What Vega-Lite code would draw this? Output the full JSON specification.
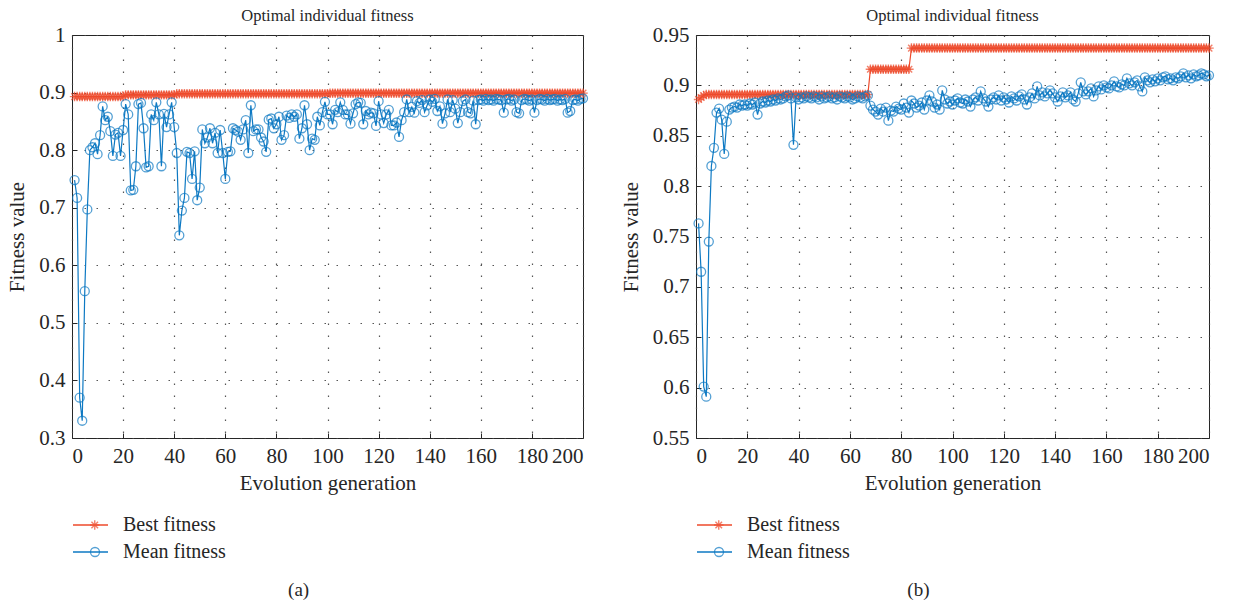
{
  "$schema": "https://vega.github.io/schema/vega-lite/v6.json",
  "background": "white",
  "padding": {"left": 6, "top": 7, "right": 5, "bottom": 5},
  "config": {
    "font": "Liberation Serif",
    "view": {"stroke": "#262626", "strokeWidth": 1},
    "axis": {
      "labelFont": "Liberation Serif", "labelFontSize": 21, "labelColor": "#262626",
      "titleFont": "Liberation Serif", "titleFontSize": 21, "titleFontWeight": "normal", "titleColor": "#262626",
      "domain": false, "tickColor": "#262626", "tickSize": -5, "labelPadding": 12,
      "grid": true, "gridDash": [1.5, 10.5], "gridColor": "#444444", "gridOpacity": 0.9, "gridWidth": 1.2
    },
    "legend": {"labelFont": "Liberation Serif", "labelFontSize": 20, "labelColor": "#262626"},
    "title": {"font": "Liberation Serif", "fontSize": 16.5, "fontWeight": "normal", "color": "#262626"}
  },
  "datasets": {
    "a": [
      {"g":1,"B":0.893,"M":0.748},{"g":2,"B":0.893,"M":0.717},{"g":3,"B":0.893,"M":0.370},{"g":4,"B":0.893,"M":0.330},{"g":5,"B":0.893,"M":0.555},
      {"g":6,"B":0.893,"M":0.697},{"g":7,"B":0.893,"M":0.800},{"g":8,"B":0.893,"M":0.805},{"g":9,"B":0.893,"M":0.812},{"g":10,"B":0.893,"M":0.793},
      {"g":11,"B":0.893,"M":0.826},{"g":12,"B":0.893,"M":0.876},{"g":13,"B":0.893,"M":0.852},{"g":14,"B":0.893,"M":0.858},{"g":15,"B":0.893,"M":0.833},
      {"g":16,"B":0.893,"M":0.790},{"g":17,"B":0.893,"M":0.827},{"g":18,"B":0.893,"M":0.830},{"g":19,"B":0.893,"M":0.790},{"g":20,"B":0.893,"M":0.835},
      {"g":21,"B":0.896,"M":0.880},{"g":22,"B":0.896,"M":0.862},{"g":23,"B":0.896,"M":0.730},{"g":24,"B":0.896,"M":0.731},{"g":25,"B":0.896,"M":0.772},
      {"g":26,"B":0.896,"M":0.880},{"g":27,"B":0.896,"M":0.882},{"g":28,"B":0.896,"M":0.838},{"g":29,"B":0.896,"M":0.770},{"g":30,"B":0.896,"M":0.772},
      {"g":31,"B":0.896,"M":0.862},{"g":32,"B":0.896,"M":0.852},{"g":33,"B":0.896,"M":0.883},{"g":34,"B":0.896,"M":0.862},{"g":35,"B":0.896,"M":0.772},
      {"g":36,"B":0.896,"M":0.863},{"g":37,"B":0.896,"M":0.840},{"g":38,"B":0.896,"M":0.862},{"g":39,"B":0.896,"M":0.883},{"g":40,"B":0.896,"M":0.840},
      {"g":41,"B":0.898,"M":0.795},{"g":42,"B":0.898,"M":0.652},{"g":43,"B":0.898,"M":0.695},{"g":44,"B":0.898,"M":0.717},{"g":45,"B":0.898,"M":0.797},
      {"g":46,"B":0.898,"M":0.795},{"g":47,"B":0.898,"M":0.750},{"g":48,"B":0.898,"M":0.798},{"g":49,"B":0.898,"M":0.713},{"g":50,"B":0.898,"M":0.735},
      {"g":51,"B":0.898,"M":0.836},{"g":52,"B":0.898,"M":0.812},{"g":53,"B":0.898,"M":0.822},{"g":54,"B":0.898,"M":0.838},{"g":55,"B":0.898,"M":0.812},
      {"g":56,"B":0.898,"M":0.830},{"g":57,"B":0.898,"M":0.795},{"g":58,"B":0.898,"M":0.835},{"g":59,"B":0.898,"M":0.795},{"g":60,"B":0.898,"M":0.750},
      {"g":61,"B":0.898,"M":0.797},{"g":62,"B":0.898,"M":0.798},{"g":63,"B":0.898,"M":0.838},{"g":64,"B":0.898,"M":0.835},{"g":65,"B":0.898,"M":0.832},
      {"g":66,"B":0.898,"M":0.818},{"g":67,"B":0.898,"M":0.836},{"g":68,"B":0.898,"M":0.852},{"g":69,"B":0.898,"M":0.795},{"g":70,"B":0.898,"M":0.878},
      {"g":71,"B":0.898,"M":0.833},{"g":72,"B":0.898,"M":0.836},{"g":73,"B":0.898,"M":0.836},{"g":74,"B":0.898,"M":0.822},{"g":75,"B":0.898,"M":0.815},
      {"g":76,"B":0.898,"M":0.797},{"g":77,"B":0.898,"M":0.853},{"g":78,"B":0.898,"M":0.855},{"g":79,"B":0.898,"M":0.838},{"g":80,"B":0.898,"M":0.845},
      {"g":81,"B":0.898,"M":0.858},{"g":82,"B":0.898,"M":0.818},{"g":83,"B":0.898,"M":0.826},{"g":84,"B":0.898,"M":0.860},{"g":85,"B":0.898,"M":0.856},
      {"g":86,"B":0.898,"M":0.862},{"g":87,"B":0.898,"M":0.858},{"g":88,"B":0.898,"M":0.862},{"g":89,"B":0.898,"M":0.820},{"g":90,"B":0.898,"M":0.838},
      {"g":91,"B":0.898,"M":0.878},{"g":92,"B":0.898,"M":0.845},{"g":93,"B":0.898,"M":0.800},{"g":94,"B":0.898,"M":0.820},{"g":95,"B":0.898,"M":0.818},
      {"g":96,"B":0.898,"M":0.858},{"g":97,"B":0.898,"M":0.843},{"g":98,"B":0.898,"M":0.866},{"g":99,"B":0.898,"M":0.884},{"g":100,"B":0.898,"M":0.862},
      {"g":101,"B":0.899,"M":0.862},{"g":102,"B":0.899,"M":0.845},{"g":103,"B":0.899,"M":0.870},{"g":104,"B":0.899,"M":0.866},{"g":105,"B":0.899,"M":0.883},
      {"g":106,"B":0.899,"M":0.870},{"g":107,"B":0.899,"M":0.862},{"g":108,"B":0.899,"M":0.862},{"g":109,"B":0.899,"M":0.846},{"g":110,"B":0.899,"M":0.864},
      {"g":111,"B":0.899,"M":0.880},{"g":112,"B":0.899,"M":0.883},{"g":113,"B":0.899,"M":0.882},{"g":114,"B":0.899,"M":0.845},{"g":115,"B":0.899,"M":0.868},
      {"g":116,"B":0.899,"M":0.862},{"g":117,"B":0.899,"M":0.865},{"g":118,"B":0.899,"M":0.864},{"g":119,"B":0.899,"M":0.842},{"g":120,"B":0.899,"M":0.885},
      {"g":121,"B":0.899,"M":0.862},{"g":122,"B":0.899,"M":0.847},{"g":123,"B":0.899,"M":0.862},{"g":124,"B":0.899,"M":0.870},{"g":125,"B":0.899,"M":0.843},
      {"g":126,"B":0.899,"M":0.843},{"g":127,"B":0.899,"M":0.848},{"g":128,"B":0.899,"M":0.823},{"g":129,"B":0.899,"M":0.852},{"g":130,"B":0.899,"M":0.866},
      {"g":131,"B":0.899,"M":0.888},{"g":132,"B":0.899,"M":0.866},{"g":133,"B":0.899,"M":0.875},{"g":134,"B":0.899,"M":0.865},{"g":135,"B":0.899,"M":0.885},
      {"g":136,"B":0.899,"M":0.882},{"g":137,"B":0.899,"M":0.887},{"g":138,"B":0.899,"M":0.866},{"g":139,"B":0.899,"M":0.878},{"g":140,"B":0.899,"M":0.888},
      {"g":141,"B":0.899,"M":0.884},{"g":142,"B":0.899,"M":0.889},{"g":143,"B":0.899,"M":0.868},{"g":144,"B":0.899,"M":0.876},{"g":145,"B":0.899,"M":0.846},
      {"g":146,"B":0.899,"M":0.864},{"g":147,"B":0.899,"M":0.888},{"g":148,"B":0.899,"M":0.866},{"g":149,"B":0.899,"M":0.887},{"g":150,"B":0.899,"M":0.872},
      {"g":151,"B":0.899,"M":0.847},{"g":152,"B":0.899,"M":0.866},{"g":153,"B":0.899,"M":0.885},{"g":154,"B":0.899,"M":0.888},{"g":155,"B":0.899,"M":0.866},
      {"g":156,"B":0.899,"M":0.864},{"g":157,"B":0.899,"M":0.886},{"g":158,"B":0.899,"M":0.845},{"g":159,"B":0.899,"M":0.887},{"g":160,"B":0.899,"M":0.888},
      {"g":161,"B":0.899,"M":0.886},{"g":162,"B":0.899,"M":0.889},{"g":163,"B":0.899,"M":0.887},{"g":164,"B":0.899,"M":0.888},{"g":165,"B":0.899,"M":0.886},
      {"g":166,"B":0.899,"M":0.889},{"g":167,"B":0.899,"M":0.888},{"g":168,"B":0.899,"M":0.887},{"g":169,"B":0.899,"M":0.865},{"g":170,"B":0.899,"M":0.888},
      {"g":171,"B":0.899,"M":0.889},{"g":172,"B":0.899,"M":0.886},{"g":173,"B":0.899,"M":0.888},{"g":174,"B":0.899,"M":0.866},{"g":175,"B":0.899,"M":0.864},
      {"g":176,"B":0.899,"M":0.887},{"g":177,"B":0.899,"M":0.889},{"g":178,"B":0.899,"M":0.888},{"g":179,"B":0.899,"M":0.886},{"g":180,"B":0.899,"M":0.888},
      {"g":181,"B":0.899,"M":0.865},{"g":182,"B":0.899,"M":0.887},{"g":183,"B":0.899,"M":0.889},{"g":184,"B":0.899,"M":0.888},{"g":185,"B":0.899,"M":0.886},
      {"g":186,"B":0.899,"M":0.889},{"g":187,"B":0.899,"M":0.887},{"g":188,"B":0.899,"M":0.888},{"g":189,"B":0.899,"M":0.889},{"g":190,"B":0.899,"M":0.886},
      {"g":191,"B":0.899,"M":0.888},{"g":192,"B":0.899,"M":0.887},{"g":193,"B":0.899,"M":0.889},{"g":194,"B":0.899,"M":0.865},{"g":195,"B":0.899,"M":0.868},
      {"g":196,"B":0.899,"M":0.887},{"g":197,"B":0.899,"M":0.888},{"g":198,"B":0.899,"M":0.886},{"g":199,"B":0.899,"M":0.889},{"g":200,"B":0.899,"M":0.890}
    ],
    "b": [
      {"g":1,"B":0.886,"M":0.763},{"g":2,"B":0.888,"M":0.715},{"g":3,"B":0.890,"M":0.601},{"g":4,"B":0.891,"M":0.591},{"g":5,"B":0.891,"M":0.745},
      {"g":6,"B":0.891,"M":0.820},{"g":7,"B":0.891,"M":0.838},{"g":8,"B":0.891,"M":0.873},{"g":9,"B":0.891,"M":0.877},{"g":10,"B":0.891,"M":0.866},
      {"g":11,"B":0.891,"M":0.832},{"g":12,"B":0.891,"M":0.864},{"g":13,"B":0.891,"M":0.876},{"g":14,"B":0.891,"M":0.878},{"g":15,"B":0.891,"M":0.879},
      {"g":16,"B":0.891,"M":0.878},{"g":17,"B":0.891,"M":0.881},{"g":18,"B":0.891,"M":0.880},{"g":19,"B":0.891,"M":0.881},{"g":20,"B":0.891,"M":0.880},
      {"g":21,"B":0.891,"M":0.882},{"g":22,"B":0.891,"M":0.881},{"g":23,"B":0.891,"M":0.883},{"g":24,"B":0.891,"M":0.871},{"g":25,"B":0.891,"M":0.882},
      {"g":26,"B":0.891,"M":0.884},{"g":27,"B":0.891,"M":0.883},{"g":28,"B":0.891,"M":0.885},{"g":29,"B":0.891,"M":0.884},{"g":30,"B":0.891,"M":0.886},
      {"g":31,"B":0.891,"M":0.885},{"g":32,"B":0.891,"M":0.887},{"g":33,"B":0.891,"M":0.886},{"g":34,"B":0.891,"M":0.887},{"g":35,"B":0.891,"M":0.889},
      {"g":36,"B":0.891,"M":0.890},{"g":37,"B":0.891,"M":0.887},{"g":38,"B":0.891,"M":0.841},{"g":39,"B":0.891,"M":0.888},{"g":40,"B":0.891,"M":0.886},
      {"g":41,"B":0.891,"M":0.888},{"g":42,"B":0.891,"M":0.887},{"g":43,"B":0.891,"M":0.889},{"g":44,"B":0.891,"M":0.888},{"g":45,"B":0.891,"M":0.887},
      {"g":46,"B":0.891,"M":0.889},{"g":47,"B":0.891,"M":0.888},{"g":48,"B":0.891,"M":0.886},{"g":49,"B":0.891,"M":0.889},{"g":50,"B":0.891,"M":0.887},
      {"g":51,"B":0.891,"M":0.888},{"g":52,"B":0.891,"M":0.889},{"g":53,"B":0.891,"M":0.887},{"g":54,"B":0.891,"M":0.888},{"g":55,"B":0.891,"M":0.886},
      {"g":56,"B":0.891,"M":0.889},{"g":57,"B":0.891,"M":0.888},{"g":58,"B":0.891,"M":0.887},{"g":59,"B":0.891,"M":0.889},{"g":60,"B":0.891,"M":0.888},
      {"g":61,"B":0.891,"M":0.886},{"g":62,"B":0.891,"M":0.887},{"g":63,"B":0.891,"M":0.889},{"g":64,"B":0.891,"M":0.888},{"g":65,"B":0.891,"M":0.887},
      {"g":66,"B":0.891,"M":0.889},{"g":67,"B":0.891,"M":0.890},{"g":68,"B":0.916,"M":0.880},{"g":69,"B":0.916,"M":0.876},{"g":70,"B":0.916,"M":0.874},
      {"g":71,"B":0.916,"M":0.871},{"g":72,"B":0.916,"M":0.877},{"g":73,"B":0.916,"M":0.874},{"g":74,"B":0.916,"M":0.878},{"g":75,"B":0.916,"M":0.865},
      {"g":76,"B":0.916,"M":0.875},{"g":77,"B":0.916,"M":0.874},{"g":78,"B":0.916,"M":0.879},{"g":79,"B":0.916,"M":0.877},{"g":80,"B":0.916,"M":0.876},
      {"g":81,"B":0.916,"M":0.882},{"g":82,"B":0.916,"M":0.878},{"g":83,"B":0.916,"M":0.873},{"g":84,"B":0.937,"M":0.885},{"g":85,"B":0.937,"M":0.882},
      {"g":86,"B":0.937,"M":0.878},{"g":87,"B":0.937,"M":0.880},{"g":88,"B":0.937,"M":0.883},{"g":89,"B":0.937,"M":0.876},{"g":90,"B":0.937,"M":0.885},
      {"g":91,"B":0.937,"M":0.890},{"g":92,"B":0.937,"M":0.884},{"g":93,"B":0.937,"M":0.878},{"g":94,"B":0.937,"M":0.881},{"g":95,"B":0.937,"M":0.876},
      {"g":96,"B":0.937,"M":0.895},{"g":97,"B":0.937,"M":0.886},{"g":98,"B":0.937,"M":0.882},{"g":99,"B":0.937,"M":0.884},{"g":100,"B":0.937,"M":0.881},
      {"g":101,"B":0.937,"M":0.885},{"g":102,"B":0.937,"M":0.887},{"g":103,"B":0.937,"M":0.883},{"g":104,"B":0.937,"M":0.882},{"g":105,"B":0.937,"M":0.886},
      {"g":106,"B":0.937,"M":0.884},{"g":107,"B":0.937,"M":0.879},{"g":108,"B":0.937,"M":0.886},{"g":109,"B":0.937,"M":0.888},{"g":110,"B":0.937,"M":0.885},
      {"g":111,"B":0.937,"M":0.894},{"g":112,"B":0.937,"M":0.887},{"g":113,"B":0.937,"M":0.884},{"g":114,"B":0.937,"M":0.879},{"g":115,"B":0.937,"M":0.886},
      {"g":116,"B":0.937,"M":0.888},{"g":117,"B":0.937,"M":0.886},{"g":118,"B":0.937,"M":0.890},{"g":119,"B":0.937,"M":0.885},{"g":120,"B":0.937,"M":0.888},
      {"g":121,"B":0.937,"M":0.886},{"g":122,"B":0.937,"M":0.883},{"g":123,"B":0.937,"M":0.889},{"g":124,"B":0.937,"M":0.887},{"g":125,"B":0.937,"M":0.885},
      {"g":126,"B":0.937,"M":0.889},{"g":127,"B":0.937,"M":0.891},{"g":128,"B":0.937,"M":0.886},{"g":129,"B":0.937,"M":0.881},{"g":130,"B":0.937,"M":0.888},
      {"g":131,"B":0.937,"M":0.892},{"g":132,"B":0.937,"M":0.887},{"g":133,"B":0.937,"M":0.899},{"g":134,"B":0.937,"M":0.890},{"g":135,"B":0.937,"M":0.893},
      {"g":136,"B":0.937,"M":0.889},{"g":137,"B":0.937,"M":0.892},{"g":138,"B":0.937,"M":0.895},{"g":139,"B":0.937,"M":0.892},{"g":140,"B":0.937,"M":0.888},
      {"g":141,"B":0.937,"M":0.884},{"g":142,"B":0.937,"M":0.889},{"g":143,"B":0.937,"M":0.893},{"g":144,"B":0.937,"M":0.888},{"g":145,"B":0.937,"M":0.890},
      {"g":146,"B":0.937,"M":0.893},{"g":147,"B":0.937,"M":0.886},{"g":148,"B":0.937,"M":0.884},{"g":149,"B":0.937,"M":0.892},{"g":150,"B":0.937,"M":0.903},
      {"g":151,"B":0.937,"M":0.894},{"g":152,"B":0.937,"M":0.891},{"g":153,"B":0.937,"M":0.894},{"g":154,"B":0.937,"M":0.897},{"g":155,"B":0.937,"M":0.889},
      {"g":156,"B":0.937,"M":0.895},{"g":157,"B":0.937,"M":0.899},{"g":158,"B":0.937,"M":0.896},{"g":159,"B":0.937,"M":0.900},{"g":160,"B":0.937,"M":0.898},
      {"g":161,"B":0.937,"M":0.897},{"g":162,"B":0.937,"M":0.900},{"g":163,"B":0.937,"M":0.904},{"g":164,"B":0.937,"M":0.899},{"g":165,"B":0.937,"M":0.898},
      {"g":166,"B":0.937,"M":0.901},{"g":167,"B":0.937,"M":0.900},{"g":168,"B":0.937,"M":0.907},{"g":169,"B":0.937,"M":0.902},{"g":170,"B":0.937,"M":0.900},
      {"g":171,"B":0.937,"M":0.903},{"g":172,"B":0.937,"M":0.905},{"g":173,"B":0.937,"M":0.899},{"g":174,"B":0.937,"M":0.894},{"g":175,"B":0.937,"M":0.908},
      {"g":176,"B":0.937,"M":0.905},{"g":177,"B":0.937,"M":0.903},{"g":178,"B":0.937,"M":0.906},{"g":179,"B":0.937,"M":0.904},{"g":180,"B":0.937,"M":0.907},
      {"g":181,"B":0.937,"M":0.905},{"g":182,"B":0.937,"M":0.908},{"g":183,"B":0.937,"M":0.909},{"g":184,"B":0.937,"M":0.906},{"g":185,"B":0.937,"M":0.907},
      {"g":186,"B":0.937,"M":0.905},{"g":187,"B":0.937,"M":0.908},{"g":188,"B":0.937,"M":0.907},{"g":189,"B":0.937,"M":0.909},{"g":190,"B":0.937,"M":0.912},
      {"g":191,"B":0.937,"M":0.908},{"g":192,"B":0.937,"M":0.910},{"g":193,"B":0.937,"M":0.907},{"g":194,"B":0.937,"M":0.911},{"g":195,"B":0.937,"M":0.909},
      {"g":196,"B":0.937,"M":0.910},{"g":197,"B":0.937,"M":0.912},{"g":198,"B":0.937,"M":0.911},{"g":199,"B":0.937,"M":0.909},{"g":200,"B":0.937,"M":0.910}
    ]
  },
  "spacing": 27,
  "resolve": {"scale": {"color": "independent", "shape": "independent", "y": "independent", "x": "independent"}, "legend": {"color": "independent", "shape": "independent"}},
  "hconcat": [
    {
      "title": {"text": "(a)", "orient": "bottom", "anchor": "middle", "fontSize": 19, "offset": 18},
      "vconcat": [
        {
          "width": 511, "height": 403,
          "title": {"text": "Optimal individual fitness", "offset": 0},
          "data": {"name": "a"},
          "transform": [{"fold": ["B", "M"], "as": ["s", "v"]}],
          "encoding": {
            "x": {"field": "g", "type": "quantitative", "scale": {"domain": [0, 200], "nice": false},
                  "axis": {"values": [0,20,40,60,80,100,120,140,160,180,200], "title": "Evolution generation", "titlePadding": 6}},
            "y": {"field": "v", "type": "quantitative", "scale": {"domain": [0.3, 1], "nice": false, "zero": false},
                  "axis": {"values": [0.3,0.4,0.5,0.6,0.7,0.8,0.9,1], "format": "~g", "title": "Fitness value", "titlePadding": 11}}
          },
          "resolve": {"scale": {"shape": "independent"}, "legend": {"shape": "independent"}},
          "layer": [
            {"mark": {"type": "line", "strokeWidth": 1.2},
             "encoding": {"color": {"field": "s", "type": "nominal", "scale": {"domain": ["B", "M"], "range": ["#ee4a2b", "#0d79c3"]},
               "legend": {"orient": "none", "legendX": 0, "legendY": 480, "title": null, "symbolType": "stroke", "symbolSize": 1225, "symbolStrokeWidth": 1.3,
                          "clipHeight": 20, "rowPadding": 7, "labelOffset": 14, "labelExpr": "datum.value == 'B' ? 'Best fitness' : 'Mean fitness'"}}}},
            {"transform": [{"filter": "datum.s == 'B'"}],
             "mark": {"type": "point", "filled": false, "strokeWidth": 1.4, "size": 90, "color": "#ee4a2b"},
             "encoding": {"shape": {"field": "s", "type": "nominal", "scale": {"range": ["M0,-1V1M-1,0H1M-0.7,-0.7L0.7,0.7M-0.7,0.7L0.7,-0.7"]},
               "legend": {"orient": "none", "legendX": 12.75, "legendY": 480, "title": null, "symbolSize": 90, "symbolStrokeColor": "#ee4a2b", "symbolFillColor": "transparent",
                          "symbolStrokeWidth": 1.4, "clipHeight": 20, "labelExpr": "''"}}}},
            {"transform": [{"filter": "datum.s == 'M'"}],
             "mark": {"type": "point", "filled": false, "strokeWidth": 1.3, "size": 81, "color": "#0d79c3"},
             "encoding": {"shape": {"field": "s", "type": "nominal", "scale": {"range": ["circle"]},
               "legend": {"orient": "none", "legendX": 13, "legendY": 507, "title": null, "symbolSize": 81, "symbolStrokeColor": "#0d79c3", "symbolFillColor": "white",
                          "symbolStrokeWidth": 1.3, "clipHeight": 20, "labelExpr": "''"}}}}
          ]
        }
      ]
    },
    {
      "title": {"text": "(b)", "orient": "bottom", "anchor": "middle", "fontSize": 19, "offset": 18},
      "vconcat": [
        {
          "width": 513, "height": 403,
          "title": {"text": "Optimal individual fitness", "offset": 0},
          "data": {"name": "b"},
          "transform": [{"fold": ["B", "M"], "as": ["s", "v"]}],
          "encoding": {
            "x": {"field": "g", "type": "quantitative", "scale": {"domain": [0, 200], "nice": false},
                  "axis": {"values": [0,20,40,60,80,100,120,140,160,180,200], "title": "Evolution generation", "titlePadding": 6}},
            "y": {"field": "v", "type": "quantitative", "scale": {"domain": [0.55, 0.95], "nice": false, "zero": false},
                  "axis": {"values": [0.55,0.6,0.65,0.7,0.75,0.8,0.85,0.9,0.95], "format": "~g", "title": "Fitness value", "titlePadding": 11}}
          },
          "resolve": {"scale": {"shape": "independent"}, "legend": {"shape": "independent"}},
          "layer": [
            {"mark": {"type": "line", "strokeWidth": 1.2},
             "encoding": {"color": {"field": "s", "type": "nominal", "scale": {"domain": ["B", "M"], "range": ["#ee4a2b", "#0d79c3"]},
               "legend": {"orient": "none", "legendX": 0, "legendY": 480, "title": null, "symbolType": "stroke", "symbolSize": 1225, "symbolStrokeWidth": 1.3,
                          "clipHeight": 20, "rowPadding": 7, "labelOffset": 14, "labelExpr": "datum.value == 'B' ? 'Best fitness' : 'Mean fitness'"}}}},
            {"transform": [{"filter": "datum.s == 'B'"}],
             "mark": {"type": "point", "filled": false, "strokeWidth": 1.4, "size": 90, "color": "#ee4a2b"},
             "encoding": {"shape": {"field": "s", "type": "nominal", "scale": {"range": ["M0,-1V1M-1,0H1M-0.7,-0.7L0.7,0.7M-0.7,0.7L0.7,-0.7"]},
               "legend": {"orient": "none", "legendX": 12.75, "legendY": 480, "title": null, "symbolSize": 90, "symbolStrokeColor": "#ee4a2b", "symbolFillColor": "transparent",
                          "symbolStrokeWidth": 1.4, "clipHeight": 20, "labelExpr": "''"}}}},
            {"transform": [{"filter": "datum.s == 'M'"}],
             "mark": {"type": "point", "filled": false, "strokeWidth": 1.3, "size": 81, "color": "#0d79c3"},
             "encoding": {"shape": {"field": "s", "type": "nominal", "scale": {"range": ["circle"]},
               "legend": {"orient": "none", "legendX": 13, "legendY": 507, "title": null, "symbolSize": 81, "symbolStrokeColor": "#0d79c3", "symbolFillColor": "white",
                          "symbolStrokeWidth": 1.3, "clipHeight": 20, "labelExpr": "''"}}}}
          ]
        }
      ]
    }
  ]
}
